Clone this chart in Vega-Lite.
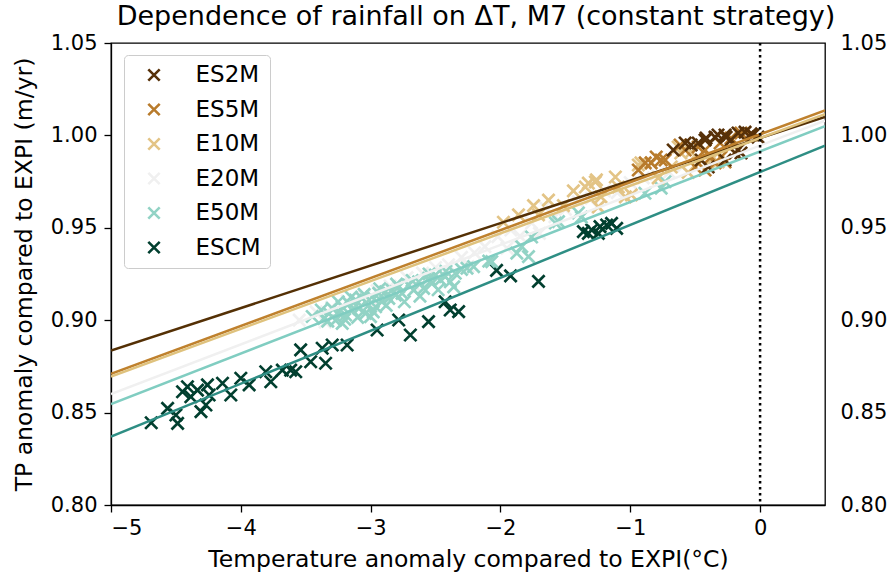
{
  "$schema": "https://vega.github.io/schema/vega-lite/v6.json",
  "width": 714,
  "height": 462,
  "autosize": {"type": "none"},
  "padding": {"left": 111, "top": 43, "right": 68, "bottom": 75},
  "background": "white",
  "title": {"text": "Dependence of rainfall on ΔT, M7 (constant strategy)", "font": "DejaVu Sans", "fontSize": 27, "fontWeight": "normal", "color": "black", "anchor": "middle", "offset": 1, "dx": 8},
  "config": {
    "view": {"stroke": "black", "strokeWidth": 1.3},
    "axis": {"labelFont": "DejaVu Sans", "titleFont": "DejaVu Sans", "labelFontSize": 21, "titleFontSize": 23.5, "titleFontWeight": "normal", "labelColor": "black", "titleColor": "black", "tickColor": "black", "domainColor": "black", "grid": false, "tickSize": 7, "tickWidth": 1.3, "domainWidth": 1.3},
    "legend": {"labelFont": "DejaVu Sans"}
  },
  "datasets": {
    "pts": [
      {"series": "ESCM", "x": -4.69, "y": 0.8445}, {"series": "ESCM", "x": -4.564, "y": 0.8523}, {"series": "ESCM", "x": -4.487, "y": 0.8442}, {"series": "ESCM", "x": -4.50, "y": 0.8487},
      {"series": "ESCM", "x": -4.449, "y": 0.8613}, {"series": "ESCM", "x": -4.411, "y": 0.864}, {"series": "ESCM", "x": -4.385, "y": 0.8586}, {"series": "ESCM", "x": -4.334, "y": 0.8622},
      {"series": "ESCM", "x": -4.307, "y": 0.8505}, {"series": "ESCM", "x": -4.269, "y": 0.8541}, {"series": "ESCM", "x": -4.257, "y": 0.865}, {"series": "ESCM", "x": -4.244, "y": 0.8595},
      {"series": "ESCM", "x": -4.141, "y": 0.8659}, {"series": "ESCM", "x": -4.077, "y": 0.8595}, {"series": "ESCM", "x": -4.0, "y": 0.8686}, {"series": "ESCM", "x": -3.936, "y": 0.865},
      {"series": "ESCM", "x": -3.808, "y": 0.8721}, {"series": "ESCM", "x": -3.769, "y": 0.8667}, {"series": "ESCM", "x": -3.68, "y": 0.873}, {"series": "ESCM", "x": -3.616, "y": 0.873},
      {"series": "ESCM", "x": -3.577, "y": 0.8721}, {"series": "ESCM", "x": -3.539, "y": 0.8839}, {"series": "ESCM", "x": -3.462, "y": 0.8775}, {"series": "ESCM", "x": -3.347, "y": 0.8767},
      {"series": "ESCM", "x": -3.373, "y": 0.8848}, {"series": "ESCM", "x": -3.296, "y": 0.8866}, {"series": "ESCM", "x": -3.181, "y": 0.8866}, {"series": "ESCM", "x": -2.95, "y": 0.8947},
      {"series": "ESCM", "x": -2.784, "y": 0.9001}, {"series": "ESCM", "x": -2.694, "y": 0.892}, {"series": "ESCM", "x": -2.554, "y": 0.8992}, {"series": "ESCM", "x": -2.426, "y": 0.910},
      {"series": "ESCM", "x": -2.387, "y": 0.9055}, {"series": "ESCM", "x": -2.322, "y": 0.9046}, {"series": "ESCM", "x": -2.03, "y": 0.927}, {"series": "ESCM", "x": -1.922, "y": 0.924},
      {"series": "ESCM", "x": -1.707, "y": 0.921}, {"series": "ESCM", "x": -1.361, "y": 0.9479}, {"series": "ESCM", "x": -1.297, "y": 0.9488}, {"series": "ESCM", "x": -1.233, "y": 0.9506},
      {"series": "ESCM", "x": -1.182, "y": 0.9515}, {"series": "ESCM", "x": -1.144, "y": 0.9524}, {"series": "ESCM", "x": -1.105, "y": 0.9497}, {"series": "ESCM", "x": -1.246, "y": 0.947},
      {"series": "ESCM", "x": -1.323, "y": 0.947},
      {"series": "E20M", "x": -3.55, "y": 0.900}, {"series": "E20M", "x": -3.42, "y": 0.9045}, {"series": "E20M", "x": -3.30, "y": 0.907}, {"series": "E20M", "x": -3.18, "y": 0.9105},
      {"series": "E20M", "x": -3.05, "y": 0.913}, {"series": "E20M", "x": -2.95, "y": 0.916}, {"series": "E20M", "x": -2.85, "y": 0.9185}, {"series": "E20M", "x": -2.72, "y": 0.923},
      {"series": "E20M", "x": -2.60, "y": 0.9255}, {"series": "E20M", "x": -2.50, "y": 0.9285}, {"series": "E20M", "x": -2.40, "y": 0.930}, {"series": "E20M", "x": -2.30, "y": 0.934},
      {"series": "E20M", "x": -2.20, "y": 0.9365}, {"series": "E20M", "x": -2.12, "y": 0.9398}, {"series": "E20M", "x": -2.02, "y": 0.9452}, {"series": "E20M", "x": -1.92, "y": 0.9488},
      {"series": "E20M", "x": -1.85, "y": 0.9455}, {"series": "E20M", "x": -1.76, "y": 0.9526}, {"series": "E20M", "x": -1.66, "y": 0.9614}, {"series": "E20M", "x": -1.58, "y": 0.956},
      {"series": "E20M", "x": -1.50, "y": 0.960}, {"series": "E20M", "x": -1.40, "y": 0.964}, {"series": "E20M", "x": -1.30, "y": 0.966}, {"series": "E20M", "x": -1.20, "y": 0.970},
      {"series": "E20M", "x": -1.10, "y": 0.969}, {"series": "E20M", "x": -1.00, "y": 0.9745}, {"series": "E20M", "x": -0.90, "y": 0.977}, {"series": "E20M", "x": -0.80, "y": 0.979},
      {"series": "E20M", "x": -0.70, "y": 0.980}, {"series": "E20M", "x": -0.60, "y": 0.983}, {"series": "E20M", "x": -3.35, "y": 0.899}, {"series": "E20M", "x": -2.65, "y": 0.918},
      {"series": "E20M", "x": -2.25, "y": 0.929}, {"series": "E20M", "x": -1.95, "y": 0.939}, {"series": "E20M", "x": -1.70, "y": 0.947}, {"series": "E20M", "x": -1.25, "y": 0.961},
      {"series": "E20M", "x": -3.00, "y": 0.9065},
      {"series": "E50M", "x": -3.36, "y": 0.901}, {"series": "E50M", "x": -3.321, "y": 0.9037}, {"series": "E50M", "x": -3.296, "y": 0.9064}, {"series": "E50M", "x": -3.27, "y": 0.8999},
      {"series": "E50M", "x": -3.244, "y": 0.9046}, {"series": "E50M", "x": -3.219, "y": 0.9073}, {"series": "E50M", "x": -3.193, "y": 0.9028}, {"series": "E50M", "x": -3.168, "y": 0.9091},
      {"series": "E50M", "x": -3.142, "y": 0.9055}, {"series": "E50M", "x": -3.116, "y": 0.9109}, {"series": "E50M", "x": -3.091, "y": 0.9064}, {"series": "E50M", "x": -3.065, "y": 0.9118},
      {"series": "E50M", "x": -3.039, "y": 0.9037}, {"series": "E50M", "x": -3.014, "y": 0.9082}, {"series": "E50M", "x": -2.988, "y": 0.9127}, {"series": "E50M", "x": -2.962, "y": 0.9073},
      {"series": "E50M", "x": -2.937, "y": 0.9145}, {"series": "E50M", "x": -2.912, "y": 0.910}, {"series": "E50M", "x": -2.885, "y": 0.9154}, {"series": "E50M", "x": -2.86, "y": 0.9118},
      {"series": "E50M", "x": -2.835, "y": 0.9163}, {"series": "E50M", "x": -2.809, "y": 0.9136}, {"series": "E50M", "x": -2.783, "y": 0.9181}, {"series": "E50M", "x": -2.758, "y": 0.9145},
      {"series": "E50M", "x": -2.707, "y": 0.919}, {"series": "E50M", "x": -2.668, "y": 0.9163}, {"series": "E50M", "x": -2.63, "y": 0.9208}, {"series": "E50M", "x": -2.592, "y": 0.9172},
      {"series": "E50M", "x": -2.553, "y": 0.9226}, {"series": "E50M", "x": -2.528, "y": 0.9199}, {"series": "E50M", "x": -2.502, "y": 0.9244}, {"series": "E50M", "x": -2.463, "y": 0.9218},
      {"series": "E50M", "x": -2.425, "y": 0.9235}, {"series": "E50M", "x": -2.386, "y": 0.9208}, {"series": "E50M", "x": -2.348, "y": 0.9254}, {"series": "E50M", "x": -2.258, "y": 0.9281},
      {"series": "E50M", "x": -2.207, "y": 0.929}, {"series": "E50M", "x": -2.09, "y": 0.932}, {"series": "E50M", "x": -2.067, "y": 0.9317}, {"series": "E50M", "x": -1.874, "y": 0.9363},
      {"series": "E50M", "x": -1.836, "y": 0.9398}, {"series": "E50M", "x": -1.784, "y": 0.9344}, {"series": "E50M", "x": -1.76, "y": 0.945}, {"series": "E50M", "x": -3.219, "y": 0.8983},
      {"series": "E50M", "x": -3.001, "y": 0.9019}, {"series": "E50M", "x": -1.577, "y": 0.9526}, {"series": "E50M", "x": -1.553, "y": 0.9533}, {"series": "E50M", "x": -1.40, "y": 0.958},
      {"series": "E50M", "x": -1.377, "y": 0.9558}, {"series": "E50M", "x": -0.887, "y": 0.9687}, {"series": "E50M", "x": -0.762, "y": 0.9715}, {"series": "E50M", "x": -0.733, "y": 0.9749},
      {"series": "E50M", "x": -3.38, "y": 0.9055}, {"series": "E50M", "x": -3.33, "y": 0.8995}, {"series": "E50M", "x": -3.25, "y": 0.910}, {"series": "E50M", "x": -3.20, "y": 0.9005},
      {"series": "E50M", "x": -3.15, "y": 0.9125}, {"series": "E50M", "x": -3.10, "y": 0.9015}, {"series": "E50M", "x": -3.05, "y": 0.914}, {"series": "E50M", "x": -2.98, "y": 0.9045},
      {"series": "E50M", "x": -2.93, "y": 0.917}, {"series": "E50M", "x": -2.88, "y": 0.908}, {"series": "E50M", "x": -2.80, "y": 0.9195}, {"series": "E50M", "x": -2.74, "y": 0.910},
      {"series": "E50M", "x": -2.68, "y": 0.9215}, {"series": "E50M", "x": -2.62, "y": 0.913}, {"series": "E50M", "x": -2.55, "y": 0.925}, {"series": "E50M", "x": -2.48, "y": 0.9165},
      {"series": "E50M", "x": -2.42, "y": 0.9265}, {"series": "E50M", "x": -2.36, "y": 0.918}, {"series": "E50M", "x": -2.30, "y": 0.9275}, {"series": "E50M", "x": -3.45, "y": 0.902},
      {"series": "E10M", "x": -1.346, "y": 0.9721}, {"series": "E10M", "x": -1.269, "y": 0.9748}, {"series": "E10M", "x": -1.115, "y": 0.9775}, {"series": "E10M", "x": -0.938, "y": 0.984},
      {"series": "E10M", "x": -0.631, "y": 0.9937}, {"series": "E10M", "x": -0.531, "y": 0.991}, {"series": "E10M", "x": -1.246, "y": 0.9613}, {"series": "E10M", "x": -0.992, "y": 0.9678},
      {"series": "E10M", "x": -0.378, "y": 0.9867}, {"series": "E10M", "x": -0.477, "y": 0.9851}, {"series": "E10M", "x": -0.685, "y": 0.9829}, {"series": "E10M", "x": -1.323, "y": 0.9742},
      {"series": "E10M", "x": -1.261, "y": 0.9759}, {"series": "E10M", "x": -1.092, "y": 0.9721}, {"series": "E10M", "x": -0.918, "y": 0.9851}, {"series": "E10M", "x": -1.038, "y": 0.9667},
      {"series": "E10M", "x": -1.226, "y": 0.9667}, {"series": "E10M", "x": -0.611, "y": 0.9905}, {"series": "E10M", "x": -1.977, "y": 0.953}, {"series": "E10M", "x": -1.861, "y": 0.957},
      {"series": "E10M", "x": -1.745, "y": 0.962}, {"series": "E10M", "x": -1.63, "y": 0.965}, {"series": "E10M", "x": -1.515, "y": 0.962}, {"series": "E10M", "x": -1.438, "y": 0.970},
      {"series": "E10M", "x": -1.707, "y": 0.957}, {"series": "E10M", "x": -0.785, "y": 0.977}, {"series": "E10M", "x": -0.554, "y": 0.980}, {"series": "E10M", "x": -0.324, "y": 0.9856},
      {"series": "ES5M", "x": -0.839, "y": 0.9851}, {"series": "ES5M", "x": -0.762, "y": 0.9867}, {"series": "ES5M", "x": -0.577, "y": 0.9921}, {"series": "ES5M", "x": -0.477, "y": 0.9937},
      {"series": "ES5M", "x": -0.424, "y": 0.9921}, {"series": "ES5M", "x": -0.378, "y": 0.9883}, {"series": "ES5M", "x": -0.308, "y": 0.9959}, {"series": "ES5M", "x": -0.224, "y": 0.9986},
      {"series": "ES5M", "x": -0.147, "y": 1.0013}, {"series": "ES5M", "x": -0.07, "y": 1.0002}, {"series": "ES5M", "x": -0.5, "y": 0.9829}, {"series": "ES5M", "x": -0.347, "y": 0.9851},
      {"series": "ES5M", "x": -0.193, "y": 0.9905}, {"series": "ES5M", "x": -0.424, "y": 0.9813}, {"series": "ES5M", "x": -0.27, "y": 0.9856}, {"series": "ES5M", "x": -0.616, "y": 0.9948},
      {"series": "ES5M", "x": -0.731, "y": 0.9867}, {"series": "ES5M", "x": -0.885, "y": 0.9851}, {"series": "ES5M", "x": -0.8, "y": 0.9883}, {"series": "ES5M", "x": -0.3, "y": 0.9883},
      {"series": "ES5M", "x": -0.938, "y": 0.9813},
      {"series": "ES2M", "x": -0.577, "y": 0.9959}, {"series": "ES2M", "x": -0.531, "y": 0.9948}, {"series": "ES2M", "x": -0.477, "y": 0.9959}, {"series": "ES2M", "x": -0.424, "y": 0.9975},
      {"series": "ES2M", "x": -0.416, "y": 0.9986}, {"series": "ES2M", "x": -0.347, "y": 0.9991}, {"series": "ES2M", "x": -0.324, "y": 1.0002}, {"series": "ES2M", "x": -0.27, "y": 1.0002},
      {"series": "ES2M", "x": -0.262, "y": 0.9991}, {"series": "ES2M", "x": -0.17, "y": 1.0013}, {"series": "ES2M", "x": -0.116, "y": 1.0018}, {"series": "ES2M", "x": -0.07, "y": 1.0008},
      {"series": "ES2M", "x": -0.055, "y": 1.0002}, {"series": "ES2M", "x": -0.454, "y": 0.9867}, {"series": "ES2M", "x": -0.27, "y": 0.9867}, {"series": "ES2M", "x": -0.193, "y": 0.9905},
      {"series": "ES2M", "x": -0.17, "y": 0.9921}, {"series": "ES2M", "x": -0.147, "y": 0.9905}, {"series": "ES2M", "x": -0.4, "y": 0.9829}, {"series": "ES2M", "x": -0.224, "y": 0.9975},
      {"series": "ES2M", "x": -0.016, "y": 0.9991}, {"series": "ES2M", "x": -0.669, "y": 0.9921}
    ],
    "fits": [
      {"series": "ES2M", "x": -5, "y": 0.8836}, {"series": "ES2M", "x": 0.5, "y": 1.010},
      {"series": "ES5M", "x": -5, "y": 0.871}, {"series": "ES5M", "x": 0.5, "y": 1.0135},
      {"series": "E10M", "x": -5, "y": 0.8695}, {"series": "E10M", "x": 0.5, "y": 1.0115},
      {"series": "E20M", "x": -5, "y": 0.860}, {"series": "E20M", "x": 0.5, "y": 1.008},
      {"series": "E50M", "x": -5, "y": 0.8546}, {"series": "E50M", "x": 0.5, "y": 1.005},
      {"series": "ESCM", "x": -5, "y": 0.837}, {"series": "ESCM", "x": 0.5, "y": 0.9945}
    ],
    "zero": [{"x": 0}]
  },
  "layer": [
    {
      "data": {"name": "pts"},
      "mark": {"type": "point", "shape": "M-1,-1L1,1M1,-1L-1,1", "filled": false, "strokeWidth": 2.7, "size": 150, "opacity": 1, "clip": true},
      "encoding": {
        "x": {"field": "x", "type": "quantitative", "scale": {"domain": [-5, 0.5], "nice": false, "zero": false}, "axis": {"title": "Temperature anomaly compared to EXPI(°C)", "values": [-5, -4, -3, -2, -1, 0], "format": "d", "labelPadding": 5, "titlePadding": 9}},
        "y": {"field": "y", "type": "quantitative", "scale": {"domain": [0.8, 1.05], "nice": false, "zero": false}, "axis": {"title": "TP anomaly compared to EXPI (m/yr)", "values": [0.8, 0.85, 0.9, 0.95, 1.0, 1.05], "format": ".2f", "labelPadding": 7, "titlePadding": 14}},
        "color": {"field": "series", "type": "nominal", "sort": ["ES2M", "ES5M", "E10M", "E20M", "E50M", "ESCM"],
          "scale": {"domain": ["ES2M", "ES5M", "E10M", "E20M", "E50M", "ESCM"], "range": ["#573109", "#b87b2c", "#e3c486", "#f0f0f0", "#92d3c5", "#013f2f"]},
          "legend": {"title": null, "orient": "none", "legendX": 13, "legendY": 12, "symbolType": "M-1,-1L1,1M1,-1L-1,1", "symbolSize": 130, "symbolStrokeWidth": 2.6, "symbolFillColor": "transparent", "labelFontSize": 23, "labelColor": "black", "rowPadding": 10.5, "padding": 8.5, "symbolOffset": 10, "labelOffset": 30, "strokeColor": "#cccccc", "fillColor": "white", "cornerRadius": 4, "labelLimit": 200}}
      }
    },
    {
      "data": {"name": "fits"},
      "mark": {"type": "line", "strokeWidth": 2.5, "clip": true},
      "encoding": {
        "x": {"field": "x", "type": "quantitative"},
        "y": {"field": "y", "type": "quantitative", "axis": {"orient": "right", "title": null, "values": [0.8, 0.85, 0.9, 0.95, 1.0, 1.05], "format": ".2f", "ticks": false, "domain": false, "labelPadding": 15}},
        "color": {"field": "series", "type": "nominal", "scale": {"domain": ["ES2M", "ES5M", "E10M", "E20M", "E50M", "ESCM"], "range": ["#543005", "#bf812d", "#dfc27d", "#f0f0f0", "#80cdc1", "#2e8e84"]}, "legend": null}
      }
    },
    {
      "data": {"name": "zero"},
      "mark": {"type": "rule", "color": "black", "strokeWidth": 2.5, "strokeDash": [2.5, 3.5]},
      "encoding": {"x": {"field": "x", "type": "quantitative"}}
    }
  ],
  "resolve": {"scale": {"color": "independent"}, "axis": {"y": "independent"}}
}
